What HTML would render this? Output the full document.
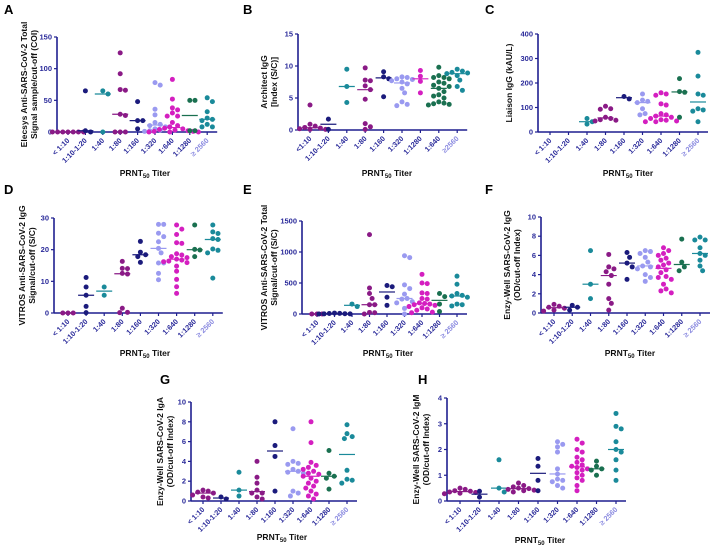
<!DOCTYPE html>
<html><head><meta charset="utf-8"><style>
html,body{margin:0;padding:0;background:#fff;}
svg{display:block;font-family:"Liberation Sans",Arial,sans-serif;}
.tl{font-size:7.3px;font-weight:bold;fill:#2a2a9a;}
.yl{font-size:7.5px;font-weight:bold;fill:#2a2a9a;}
.tt{font-size:8.5px;font-weight:bold;fill:#111;}
.pl{font-size:13px;font-weight:bold;fill:#000;}
</style></head><body>
<svg id="fig" width="714" height="550" viewBox="0 0 714 550" xmlns="http://www.w3.org/2000/svg"></svg>
<script>
const catsStd = ["< 1:10","1:10-1:20","1:40","1:80","1:160","1:320","1:640","1:1280","\u2265 2560"];
const catsB = ["<1:10","1:10-1:20","1:40","1:80","1:160","1:320","1:1280","1:640","\u22652560"];
const colorsPos = ["#8a1a86","#1b1b7c","#1a8a9a","#8a1a86","#1b1b7c","#9a9af0","#d41fc0","#1a7050","#1a8a9a"];

const aVals = [[0,0,0,0,0,0,0],[65,0,2],[65,60,0],[125,92,67,66,28,26,0,0,0],[48,18,18,5],[78,74,36,27,15,12,10,8,5,3,2,1],[83,52,38,35,30,25,25,15,10,8,6,5,4,3,2,1,1,0,0,0],[50,50,2,2],[54,48,32,22,20,18,12,8,8]];
const aTicks = [0,50,100,150];
const bVals = [[3.9,0.9,0.6,0.4,0.3,0.2,0.1,0.1],[1.7,0.1],[9.5,6.8,4.3],[9.7,7.8,7.7,6.9,6.3,4.8,1.0,0.5,0.1],[9.1,8.3,8.0,5.2],[8.3,8.2,8.0,7.9,7.7,7.5,7.2,6.5,5.8,4.4,4.0,3.8],[9.3,8.4,7.6,5.8],[9.8,8.5,8.2,8.2,8.0,7.5,7.3,7.0,6.8,6.5,6.0,5.5,5.3,5.0,4.4,4.2,4.1,4.0,3.9],[9.5,9.2,9.0,8.9,8.8,8.5,7.8,6.8,6.2]];
const bTicks = [0,5,10,15];
const cVals = [[],[],[55,42,32],[105,95,93,60,55,50,48,45],[145,135],[155,130,125,120,95,75,70],[160,155,150,115,110,75,70,65,60,55,50,48,45,42,42],[218,165,162,60],[325,228,155,150,95,90,85,42]];
const cTicks = [0,100,200,300,400];
const dVals = [[0,0,0],[11.2,8.2,5.6,2.1,0.1],[8.2,5.6],[16.3,14.1,14.0,12.5,12.3,1.5,0.1,0.2],[22.6,19.2,18.4,17.8,16.0],[28,28,25.2,24.1,22.5,20.4,19.0,15.8,15.8,12.5,10.5],[27.8,26.5,24.8,22.2,22.0,18.7,18.3,17.8,17.5,17.0,16.7,16.4,16.2,15.9,14.8,13.2,10.6,8.3,6.2],[27.8,20.1,19.9,17.8],[27.8,25.6,25.1,23.5,23.2,20.2,19.8,19.0,11.0]];
const dTicks = [0,10,20,30];
const eVals = [[0,0,0],[15,10,8,5,3,2,0],[160,120],[1280,420,330,250,150,150,25,20,0],[460,440,270,140],[940,910,470,410,320,250,240,200,180,90,0],[640,500,490,340,330,250,240,180,170,160,150,140,120,100,80,60,30,20],[330,280,160,40],[610,480,330,300,290,270,160,150,130]];
const eTicks = [0,500,1000,1500];
const fVals = [[0.9,0.7,0.6,0.5,0.3,0.2],[0.8,0.6,0.3],[6.5,3.0,1.5],[6.1,4.8,4.6,4.3,3.9,3.0,1.5,1.0,0.3],[6.3,5.8,5.2,4.8,3.5],[6.5,6.4,6.2,5.8,5.3,4.9,4.8,4.6,4.0,3.7,3.3],[6.8,6.5,6.2,6.0,5.7,5.5,5.2,5.0,4.8,4.5,4.2,3.8,3.7,3.5,3.0,2.5,2.3,2.1],[7.7,5.3,4.8,4.4],[7.9,7.6,7.6,6.8,6.2,6.0,5.5,4.9,4.4]];
const fTicks = [0,2,4,6,8,10];
const gVals = [[1.1,1.0,0.9,0.8,0.6,0.4,0.3],[0.4,0.2],[2.9,1.1,0.5],[4.0,2.4,1.8,1.1,0.8,0.8,0.4,0.2],[8.0,5.6,4.5,1.0],[7.3,4.0,3.8,3.7,3.2,3.0,2.9,2.8,1.0,0.8,0.5],[8.0,5.9,3.9,3.6,3.4,3.2,3.0,2.8,2.7,2.5,2.3,2.0,1.8,1.5,1.3,1.0,0.7,0.5,0.2],[5.1,2.8,2.5,2.3,1.2],[7.7,6.8,6.5,6.3,3.1,2.2,2.1,1.8]];
const gTicks = [0,2,4,6,8,10];
const hVals = [[0.5,0.45,0.4,0.38,0.35,0.33,0.3,0.28],[0.38,0.15],[1.6,0.5,0.35],[0.7,0.6,0.55,0.5,0.48,0.45,0.42,0.4,0.35],[1.65,1.35,0.8,0.4],[2.3,2.2,2.1,1.9,1.25,1.05,0.85,0.8,0.75,0.6,0.5],[2.4,2.25,2.0,1.9,1.7,1.6,1.5,1.4,1.35,1.3,1.25,1.2,1.1,1.0,0.9,0.8,0.6,0.4],[1.55,1.35,1.25,1.2,1.0],[3.4,2.9,2.8,2.3,2.0,1.9,1.6,1.2,0.8]];
const hTicks = [0,1,2,3,4];

const NS="http://www.w3.org/2000/svg";
const svg=document.getElementById('fig');
function mk(tag,attrs,parent,txt){const e=document.createElementNS(NS,tag);for(const k in attrs)e.setAttribute(k,attrs[k]);if(txt!==undefined)e.textContent=txt;(parent||svg).appendChild(e);return e;}
function median(a){if(!a.length)return null;const s=[...a].sort((x,y)=>x-y);const m=s.length>>1;return s.length%2?s[m]:(s[m-1]+s[m])/2;}

function panel(p){
  const g=mk('g',{});
  
  
  const ymax=p.ticks[p.ticks.length-1];
  const ys=v=>p.y0-(v/ymax)*(p.y0-p.y1);
  const xs=i=>p.c0+i*p.dx;
  const xEnd=xs(p.cats.length-1)+10;
  const L=mk('text',{x:p.lx,y:p.ly,class:'pl'},g,p.letter);
  
  
  const ya=mk('line',{x1:p.ax,y1:p.y1,x2:p.ax,y2:p.y0,stroke:'#1f1f8f','stroke-width':1.6},g);
  
  
  const xa=mk('line',{x1:p.ax,y1:p.y0,x2:xEnd,y2:p.y0,stroke:'#1f1f8f','stroke-width':1.6},g);
  
  
  p.ticks.forEach(t=>{
    const y=ys(t);
    mk('line',{x1:p.ax-3,y1:y,x2:p.ax,y2:y,stroke:'#1f1f8f','stroke-width':1.2},g);
    const tl=mk('text',{x:p.ax-5,y:y+2.5,class:'yl','text-anchor':'end'},g,String(t));
    
    
  });
  p.cats.forEach((c,i)=>{
    const x=xs(i);
    mk('line',{x1:x,y1:p.y0,x2:x,y2:p.y0+3,stroke:'#1f1f8f','stroke-width':1.2},g);
    const tl=mk('text',{x:x+2,y:p.y0+9,class:'tl','text-anchor':'end',transform:`rotate(-45 ${x+2} ${p.y0+9})`},g,c);
    if(i==8)tl.style.fill='#8a8ae0';
    
    
  });
  const cy=(p.y0+p.y1)/2;
  p.ytitle.forEach((s,k)=>{
    const x=p.tx+k*10;
    const t=mk('text',{x:x,y:cy,class:'tt','text-anchor':'middle',transform:`rotate(-90 ${x} ${cy})`},g,s);
    
    
  });
  const xt=mk('text',{x:p.xtx,y:p.xty,class:'tt','text-anchor':'middle'},g);
  
  
  mk('tspan',{},xt,'PRNT');
  mk('tspan',{dy:2,'font-size':6},xt,'50');
  mk('tspan',{dy:-2},xt,' Titer');
  p.vals.forEach((arr,i)=>{
    const col=colorsPos[i];
    const cx=xs(i);
    const placed=[];
    const r=2.5, d=5;
    [...arr].sort((a,b)=>b-a).forEach(v=>{
      const y=ys(v);
      let off=0;
      for(let k=0;k<30;k++){
        off=(k%2?1:-1)*Math.ceil(k/2)*2.6;
        const ok=placed.every(q=>Math.hypot(q[0]-(cx+off),q[1]-y)>=d);
        if(ok)break;
      }
      placed.push([cx+off,y]);
      const c=mk('circle',{cx:cx+off,cy:y,r:r,fill:col},g);
      
      
    });
    const m=median(arr);
    if(m!==null){
      const ml=mk('line',{x1:cx-8,y1:ys(m),x2:cx+8,y2:ys(m),stroke:col,'stroke-width':1.2},g);
      
      
    }
  });
}

panel({letter:'A',lx:4,ly:14,ax:57,y0:132,y1:37,c0:68,dx:17.4,cats:catsStd,vals:aVals,ticks:aTicks,ytitle:['Elecsys Anti-SARS-CoV-2 Total','Signal sample/cut-off (COI)'],tx:27,xtx:145,xty:176});
panel({letter:'B',lx:243,ly:14,ax:298,y0:130,y1:34,c0:310,dx:18.4,cats:catsB,vals:bVals,ticks:bTicks,ytitle:['Architect IgG','[Index (S/C)]'],tx:267,xtx:387,xty:176});
panel({letter:'C',lx:485,ly:14,ax:538,y0:132,y1:34,c0:550,dx:18.5,cats:catsStd,vals:cVals,ticks:cTicks,ytitle:['Liaison IgG (kAU/L)'],tx:512,xtx:628,xty:176});
panel({letter:'D',lx:4,ly:194,ax:54,y0:313,y1:218,c0:68,dx:18.1,cats:catsStd,vals:dVals,ticks:dTicks,ytitle:['VITROS Anti-SARS-CoV-2 IgG','Signal/cut-off (S/C)'],tx:25,xtx:145,xty:356});
panel({letter:'E',lx:243,ly:194,ax:302,y0:314,y1:221,c0:317,dx:17.5,cats:catsStd,vals:eVals,ticks:eTicks,ytitle:['VITROS Anti-SARS-CoV-2 Total','Signal/cut-off (S/C)'],tx:267,xtx:388,xty:356});
panel({letter:'F',lx:485,ly:194,ax:541,y0:313,y1:217,c0:554,dx:18.25,cats:catsStd,vals:fVals,ticks:fTicks,ytitle:['Enzy-Well SARS-CoV-2 IgG','(OD/cut-off Index)'],tx:510,xtx:630,xty:356});
panel({letter:'G',lx:160,ly:384,ax:191,y0:501,y1:402,c0:203,dx:18,cats:catsStd,vals:gVals,ticks:gTicks,ytitle:['Enzy-Well SARS-CoV-2 IgA','(OD/cut-off Index)'],tx:163,xtx:282,xty:540});
panel({letter:'H',lx:418,ly:384,ax:447,y0:501,y1:398,c0:460,dx:19.5,cats:catsStd,vals:hVals,ticks:hTicks,ytitle:['Enzy-Well SARS-CoV-2 IgM','(OD/cut-off Index)'],tx:419,xtx:540,xty:543});
</script>
</body></html>
